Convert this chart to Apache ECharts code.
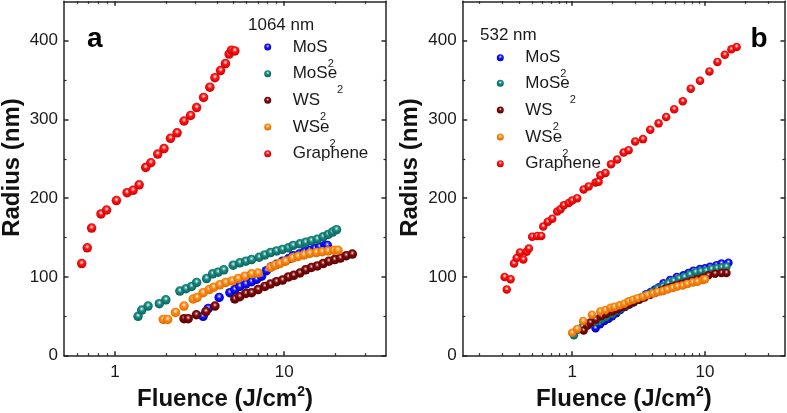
<!DOCTYPE html>
<html>
<head>
<meta charset="utf-8">
<script src="https://cdn.jsdelivr.net/npm/echarts@6/dist/echarts.min.js"></script>
<style>html,body{margin:0;padding:0;background:#fff}#c{width:787px;height:413px}</style>
</head>
<body>
<div id="c"></div>
<script>
// ---------- Panel a : 1064 nm ----------
const a_MoS2_F = [3.32,3.56,4.13,4.78,5.11,5.47,5.94,6.42,6.87,7.35,7.86,8.42,9.01,9.78,10.6,11.3,12.3,13.2,14.2,15.2,16.2,17.4,18.0];
const a_MoS2_R = [50,60,74,80,84,88,91,94,97,101,108,113,116,120,123,127,129,132,134,136,138,140,140];
const a_MoSe2_F = [1.37,1.44,1.57,1.83,2.0,2.42,2.63,2.84,3.04,3.48,3.78,4.07,4.40,5.0,5.47,5.94,6.42,7.12,7.69,8.31,9.02,9.78,10.6,11.3,12.4,13.4,14.5,15.7,17.0,18.2,19.3,20.4];
const a_MoSe2_R = [50,58,63,66,71,82,85,88,93,98,104,106,109,115,118,120,122,125,128,131,133,135,137,140,142,144,146,148,151,154,157,160];
const a_WS2_F = [2.56,2.71,3.03,3.45,3.90,5.11,5.47,5.94,6.42,7.02,7.69,8.30,9.01,9.78,10.6,11.4,12.4,13.4,14.5,15.7,17.0,18.4,19.9,21.5,23.3,25.3];
const a_WS2_R = [47,47,52,56,63,72,75,79,80,84,88,91,94,96,100,102,105,109,112,114,117,120,122,124,127,129];
const a_WSe2_F = [1.93,2.05,2.28,2.56,2.90,3.06,3.32,3.61,3.84,4.17,4.52,4.93,5.35,5.86,6.42,7.02,8.30,8.81,9.42,10.2,11.2,12.1,13.1,14.2,15.5,16.8,18.2,19.7,20.8];
const a_WSe2_R = [46,46,55,63,72,74,80,84,87,90,93,95,98,101,104,105,112,115,117,120,124,126,128,130,131,132,133,134,134];
const a_Gr_F = [0.636,0.686,0.728,0.827,0.893,1.02,1.18,1.28,1.39,1.52,1.63,1.79,1.95,2.13,2.33,2.56,2.80,3.04,3.34,3.64,3.90,4.21,4.50,4.73,4.89,5.11];
const a_Gr_R = [117,137,162,180,185,197,207,210,217,239,245,256,263,276,283,298,305,315,328,341,353,362,371,383,388,387];

// ---------- Panel b : 532 nm ----------
const b_MoS2_F = [1.50,1.62,1.75,1.88,2.0,2.15,2.3,2.5,2.7,2.9,3.1,3.35,3.6,3.9,4.2,4.5,4.87,5.46,6.13,6.88,7.5,8.17,9.16,10.0,10.9,12.2,13.3,15.0];
const b_MoS2_R = [35,40,44,47,50,54,58,62,65,68,71,74,78,81,84,87,92,96,100,102,105,108,110,111,113,115,117,118];
const b_MoSe2_F = [1.03,1.1,1.2,1.35,1.5,1.65,1.8,2.0,2.2,2.4,2.6,2.8,3.0,3.3,3.6,4.0,4.4,4.8,5.3,5.8,6.4,7.0,7.7,8.5,9.3,10.2,11.2,12.3,13.4,14.5];
const b_MoSe2_R = [26,33,37,40,43,46,49,53,57,61,64,67,70,74,77,81,85,88,92,95,98,100,103,106,107,108,110,111,112,113];
const b_WS2_F = [1.22,1.30,1.37,1.5,1.65,1.8,2.0,2.2,2.4,2.65,2.9,3.2,3.5,3.85,4.2,4.6,5.0,5.5,6.0,6.6,7.2,7.9,8.7,9.5,10.6,11.9,13.3,14.5];
const b_WS2_R = [32,38,42,46,50,53,56,59,62,65,68,71,74,77,80,82,85,87,89,91,93,95,97,99,102,104,105,105];
const b_WSe2_F = [1.0,1.09,1.21,1.41,1.63,1.78,1.94,2.08,2.28,2.47,2.66,2.87,3.10,3.41,3.69,4.05,4.39,4.81,5.22,5.72,6.2,6.80,7.37,8.09,8.77,9.62,10.0];
const b_WSe2_R = [29,34,44,52,56,58,61,62,64,66,69,71,73,75,77,79,81,82,84,86,88,89,91,93,94,96,97];
const b_Gr_F = [0.31,0.322,0.344,0.365,0.382,0.405,0.429,0.454,0.472,0.50,0.546,0.585,0.606,0.656,0.708,0.772,0.817,0.865,0.943,1.0,1.09,1.22,1.33,1.50,1.58,1.63,1.78,1.96,2.18,2.44,2.66,2.98,3.41,3.87,4.47,5.10,5.86,6.80,7.81,9.17,10.8,12.4,14.1,15.8,17.3];
const b_Gr_R = [100,84,97,117,124,131,122,132,136,151,152,152,164,170,174,183,186,191,194,197,200,211,215,220,221,229,232,243,249,258,261,272,275,287,295,303,313,323,339,349,361,373,382,389,392];

// ---------- Names / ticks ----------
const seriesNames = ['MoS2', 'MoSe2', 'WS2', 'WSe2', 'Graphene'];
const legendTitles = ['1064 nm', '532 nm'];
const panelLetters = ['a', 'b'];
const xTickValues = [1, 10];
const xMinorA = [0.6, 0.7, 0.8, 0.9, 2, 3, 4, 5, 6, 7, 8, 9, 20, 30];
const xMinorB = [0.2, 0.3, 0.4, 0.5, 0.6, 0.7, 0.8, 0.9, 2, 3, 4, 5, 6, 7, 8, 9, 20, 30];
const yTickValues = [0, 100, 200, 300, 400];
const yMinor = [50, 150, 250, 350];

const FONT = "'Liberation Sans', Arial, sans-serif";
const AX = '#262626';

function zip(F, R) { return F.map((f, i) => [f, R[i]]); }
function sphere(light, base, dark) {
  return { type: 'radial', x: 0.5, y: 0.38, r: 0.62,
    colorStops: [ { offset: 0, color: '#ffffff' }, { offset: 0.16, color: light },
                  { offset: 0.4, color: base }, { offset: 1, color: dark } ] };
}
const colors = [
  sphere('#8a8aff', '#1414ff', '#0000b8'),
  sphere('#8cc8c2', '#178a82', '#0b605a'),
  sphere('#c07070', '#800808', '#560000'),
  sphere('#ffc890', '#ff8c14', '#dc6800'),
  sphere('#ff9a9a', '#ff1414', '#c80000')
];

const grids = [
  { left: 64, top: 1.3, width: 322, height: 354.4 },
  { left: 462.7, top: 1.3, width: 322.3, height: 354.4 }
];
const xRanges = [[0.5, 40], [0.15, 40]];
const xMinors = [xMinorA, xMinorB];

const xAxis = [], yAxis = [];
[0, 1].forEach(g => {
  const base = { type: 'log', logBase: 10, gridIndex: g, min: xRanges[g][0], max: xRanges[g][1], splitLine: { show: false } };
  xAxis.push(Object.assign({}, base, {
    position: 'bottom',
    axisLine: { show: true, onZero: false, lineStyle: { color: AX, width: 1.5 } },
    axisTick: { show: true, inside: true, length: 4.5, customValues: xTickValues, lineStyle: { color: AX, width: 1.5 } },
    axisLabel: { show: true, customValues: xTickValues, fontSize: 17, color: '#1a1a1a', margin: 8, fontFamily: FONT,
      formatter: v => String(Math.round(v)) },
    name: '{t|Fluence (J/cm}{p|2}{t|)}', nameLocation: 'middle', nameGap: 27,
    nameTextStyle: { rich: {
      t: { fontSize: 24, fontWeight: 'bold', fontFamily: FONT, color: '#111', lineHeight: 28 },
      p: { fontSize: 14, fontWeight: 'bold', fontFamily: FONT, color: '#111', lineHeight: 10, verticalAlign: 'top' } } }
  }));
  xAxis.push(Object.assign({}, base, {
    position: 'top',
    axisLine: { show: true, onZero: false, lineStyle: { color: AX, width: 1.5 } },
    axisTick: { show: true, inside: true, length: 4.5, customValues: xTickValues, lineStyle: { color: AX, width: 1.5 } },
    axisLabel: { show: false }
  }));
  xAxis.push(Object.assign({}, base, {
    position: 'bottom',
    axisLine: { show: false, onZero: false },
    axisTick: { show: true, inside: true, length: 2.5, customValues: xMinors[g], lineStyle: { color: AX, width: 1.2 } },
    axisLabel: { show: false }
  }));
  xAxis.push(Object.assign({}, base, {
    position: 'top',
    axisLine: { show: false, onZero: false },
    axisTick: { show: true, inside: true, length: 2.5, customValues: xMinors[g], lineStyle: { color: AX, width: 1.2 } },
    axisLabel: { show: false }
  }));

  const ybase = { type: 'value', gridIndex: g, min: 0, max: 450, splitLine: { show: false } };
  yAxis.push(Object.assign({}, ybase, {
    position: 'left',
    axisLine: { show: true, onZero: false, lineStyle: { color: AX, width: 1.5 } },
    axisTick: { show: true, inside: true, length: 4.5, customValues: yTickValues, lineStyle: { color: AX, width: 1.5 } },
    axisLabel: { show: true, customValues: yTickValues, fontSize: 17, color: '#1a1a1a', margin: 6, fontFamily: FONT },
    name: 'Radius (nm)', nameLocation: 'middle', nameGap: 40,
    nameTextStyle: { fontSize: 24, fontWeight: 'bold', fontFamily: FONT, color: '#111', padding: [0, 0, 0, 22] }
  }));
  yAxis.push(Object.assign({}, ybase, {
    position: 'right',
    axisLine: { show: true, onZero: false, lineStyle: { color: AX, width: 1.5 } },
    axisTick: { show: true, inside: true, length: 4.5, customValues: yTickValues, lineStyle: { color: AX, width: 1.5 } },
    axisLabel: { show: false }
  }));
  yAxis.push(Object.assign({}, ybase, {
    position: 'left',
    axisLine: { show: false, onZero: false },
    axisTick: { show: true, inside: true, length: 2.5, customValues: yMinor, lineStyle: { color: AX, width: 1.2 } },
    axisLabel: { show: false }
  }));
  yAxis.push(Object.assign({}, ybase, {
    position: 'right',
    axisLine: { show: false, onZero: false },
    axisTick: { show: true, inside: true, length: 2.5, customValues: yMinor, lineStyle: { color: AX, width: 1.2 } },
    axisLabel: { show: false }
  }));
});

const panelData = [
  [zip(a_MoS2_F, a_MoS2_R), zip(a_MoSe2_F, a_MoSe2_R), zip(a_WS2_F, a_WS2_R), zip(a_WSe2_F, a_WSe2_R), zip(a_Gr_F, a_Gr_R)],
  [zip(b_MoS2_F, b_MoS2_R), zip(b_MoSe2_F, b_MoSe2_R), zip(b_WS2_F, b_WS2_R), zip(b_WSe2_F, b_WSe2_R), zip(b_Gr_F, b_Gr_R)]
];
const symbolSizes = [9.5, 8.5];

const series = [];
[0, 1].forEach(g => {
  seriesNames.forEach((nm, i) => {
    series.push({
      type: 'scatter', name: nm, xAxisIndex: g * 4, yAxisIndex: g * 4,
      data: panelData[g][i], symbol: 'circle', symbolSize: symbolSizes[g],
      itemStyle: { color: colors[i], opacity: 1 },
      emphasis: { disabled: true }, z: 2 + i
    });
  });
});

// legends: one per item to control row placement
const legendMarkerX = [266.7, 499.3];
const legendRows = [[46, 72.7, 99.3, 126, 152.7], [56.7, 82.3, 109, 136, 162.7]];
const legend = [];
[0, 1].forEach(g => {
  seriesNames.forEach((nm, i) => {
    legend.push({
      data: [nm], orient: 'vertical', padding: 0,
      left: legendMarkerX[g] - 2.5, top: legendRows[g][i] - 7.5,
      itemWidth: 40, itemHeight: 7, icon: 'circle',
      formatter: n => n === 'Graphene' ? '{n|Graphene}' : '{n|' + n.slice(0, -1) + '}{s|2}',
      textStyle: { rich: {
        n: { fontSize: 17, fontFamily: FONT, color: '#1a1a1a', lineHeight: 44 },
        s: { fontSize: 11, fontFamily: FONT, color: '#1a1a1a', lineHeight: 8, verticalAlign: 'bottom' } } }
    });
  });
});

const graphic = [
  { type: 'text', style: { text: legendTitles[0], x: 248, y: 25, fontSize: 17, fontFamily: FONT, fill: '#1a1a1a', align: 'left', verticalAlign: 'middle' } },
  { type: 'text', style: { text: legendTitles[1], x: 480, y: 35, fontSize: 17, fontFamily: FONT, fill: '#1a1a1a', align: 'left', verticalAlign: 'middle' } },
  { type: 'text', style: { text: panelLetters[0], x: 87, y: 38.8, fontSize: 28, fontWeight: 'bold', fontFamily: FONT, fill: '#000', align: 'left', verticalAlign: 'middle' } },
  { type: 'text', style: { text: panelLetters[1], x: 750.5, y: 39.5, fontSize: 28, fontWeight: 'bold', fontFamily: FONT, fill: '#000', align: 'left', verticalAlign: 'middle' } }
];

const chart = echarts.init(document.getElementById('c'), null, { renderer: 'canvas' });
chart.setOption({
  animation: false,
  backgroundColor: '#ffffff',
  textStyle: { fontFamily: FONT },
  grid: grids.map(gr => Object.assign({ containLabel: false, outerBoundsMode: 'none' }, gr)),
  xAxis, yAxis, series, legend, graphic,
  tooltip: { show: false }
});
</script>
</body>
</html>
